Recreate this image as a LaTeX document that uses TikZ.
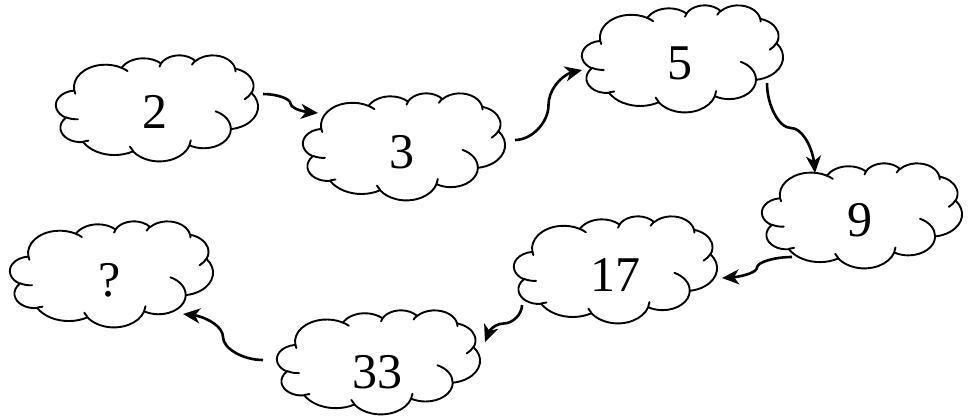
\documentclass[tikz,border=0pt]{standalone}
\usepackage{fontspec}
\setmainfont{Liberation Serif}
\usetikzlibrary{arrows.meta,bending,calc}
\makeatletter
\pgfmathdeclarefunction{visang}{3}{\begingroup\pgfmathparse{atan2((#2)*sin(#1),(#3)*cos(#1))}\pgfmath@smuggleone\pgfmathresult\endgroup}
\pgfmathdeclarefunction{wrapang}{1}{\begingroup\pgfmathparse{atan2(sin(#1),cos(#1))}\pgfmath@smuggleone\pgfmathresult\endgroup}
\makeatother
\newcommand\carc[4]{arc[x radius=#1, y radius=#2, start angle={visang(#3,#1,#2)}, delta angle={wrapang(visang((#3)+(#4),#1,#2)-visang(#3,#1,#2))}]}
\tikzset{
  cloudline/.style={line width=1.9pt, line join=round, line cap=round},
  cloudbox/.style={inner sep=0pt, outer sep=0pt, draw=none},
  numtext/.style={inner sep=0pt, font=\fontsize{50}{60}\selectfont},
  conn/.style={line width=2.6pt, -{Stealth[length=17pt,width=15pt,inset=5pt]}},
}
\newcommand\mycloud[5]{%
  \node[cloudbox, minimum width=#4pt, minimum height=#5pt] (#1) at (#2+#4/2, #3+#5/2) {};
  \begin{scope}[shift={(#2,#3)}, x={(#4pt/43.2,0pt)}, y={(0pt,-#5pt/43.2)}]
    \draw[cloudline, fill=white] (3.9,14.37)
      \carc{6.753}{9.190}{-190.48748}{123.78053}
      \carc{5.333}{7.267}{-144.10238}{89.94523}
      \carc{4.365}{5.945}{-145.80792}{99.72302}
      \carc{4.857}{6.595}{-130.98607}{117.24173}
      \carc{5.333}{7.273}{-78.70888}{109.02692}
      \carc{6.775}{9.220}{-46.26725}{130.269}
      \carc{5.785}{7.867}{0.62502}{114.03333}
      \carc{6.752}{9.215}{22.4516}{115.17255}
      \carc{7.720}{10.543}{66.24263}{75.71102}
      \carc{4.360}{5.918}{-274.94208}{146.73557}
      \carc{4.345}{5.945}{-246.8285}{152.51885}
      -- cycle;
    \draw[cloudline]
      (4.693,26.177) \carc{4.345}{5.945}{86.742}{26.4295}
      (6.928,34.899) \carc{4.360}{5.918}{73.61047}{11.44747}
      (16.478,39.090) \carc{6.752}{9.215}{137.62415}{14.0811}
      (28.827,34.751) \carc{6.752}{9.215}{6.45327}{15.99835}
      (34.129,22.954) \carc{5.785}{7.867}{-70.29235}{70.91737}
      (41.798,15.354) \carc{5.333}{7.273}{30.31803}{27.7515}
      (38.324,5.426) \carc{4.857}{6.595}{-13.74433}{14.8589}
      (29.078,3.952) \carc{4.857}{6.595}{-149.18145}{18.19537}
      (22.141,4.720) \carc{4.365}{5.945}{-163.49427}{17.68635}
      (14.000,5.192) \carc{6.753}{9.190}{-66.70695}{12.31935}
      (4.127,15.789) \carc{6.753}{9.190}{157.65435}{11.85817};
  \end{scope}}
\newcommand\hcurve[2]{\draw[conn] let \p1=(#1), \p2=(#2) in (#1)
  .. controls (0.75*\x1+0.25*\x2, \y1) and (0.5*\x1+0.5*\x2, 0.75*\y1+0.25*\y2) .. (0.5*\x1+0.5*\x2, 0.5*\y1+0.5*\y2)
  .. controls (0.5*\x1+0.5*\x2, 0.25*\y1+0.75*\y2) and (0.25*\x1+0.75*\x2, \y2) .. (#2);}
\newcommand\vcurve[2]{\draw[conn] let \p1=(#1), \p2=(#2) in (#1)
  .. controls (\x1, 0.75*\y1+0.25*\y2) and (0.75*\x1+0.25*\x2, 0.5*\y1+0.5*\y2) .. (0.5*\x1+0.5*\x2, 0.5*\y1+0.5*\y2)
  .. controls (0.25*\x1+0.75*\x2, 0.5*\y1+0.5*\y2) and (\x2, 0.25*\y1+0.75*\y2) .. (#2);}
\begin{document}
\begin{tikzpicture}[x=1pt, y=-1pt]
\useasboundingbox[fill=white] (0,0) rectangle (971,416);
% clouds
\mycloud{c2}{56}{55}{202}{106}
\mycloud{c3}{303}{93}{202}{107}
\mycloud{c5}{582}{5}{201}{107}
\mycloud{c9}{762}{163}{200}{105}
\mycloud{c17}{514}{216}{203}{107}
\mycloud{cq}{10}{221}{203}{106}
\mycloud{c33}{277}{310}{203}{104}
% texts
\node[numtext] (t2) at (155,112) {2};
\node[numtext] (t3) at (402,152) {3};
\node[numtext] (t5) at (680,63) {5};
\node[numtext] (t9) at (860,220) {9};
\node[numtext] (t17) at (615,275) {17};
\node[numtext] (tq) at (110,280) {?};
\node[numtext] (t33) at (377,372) {33};
% connector ends
\coordinate (s1) at (263,94);  \coordinate (e1) at (318,113);
\coordinate (s2) at (515,140); \coordinate (e2) at (582,70);
\coordinate (s3) at (767,83);  \coordinate (e3) at (815,173);
\coordinate (s4) at (792,257); \coordinate (e4) at (722,278);
\coordinate (s5) at (522,305); \coordinate (e5) at (485,342);
\coordinate (s6) at (263,360); \coordinate (e6) at (183,314);
\hcurve{s1}{e1}
\hcurve{s2}{e2}
\vcurve{s3}{e3}
\hcurve{s4}{e4}
\vcurve{s5}{e5}
\hcurve{s6}{e6}
\end{tikzpicture}
\end{document}
